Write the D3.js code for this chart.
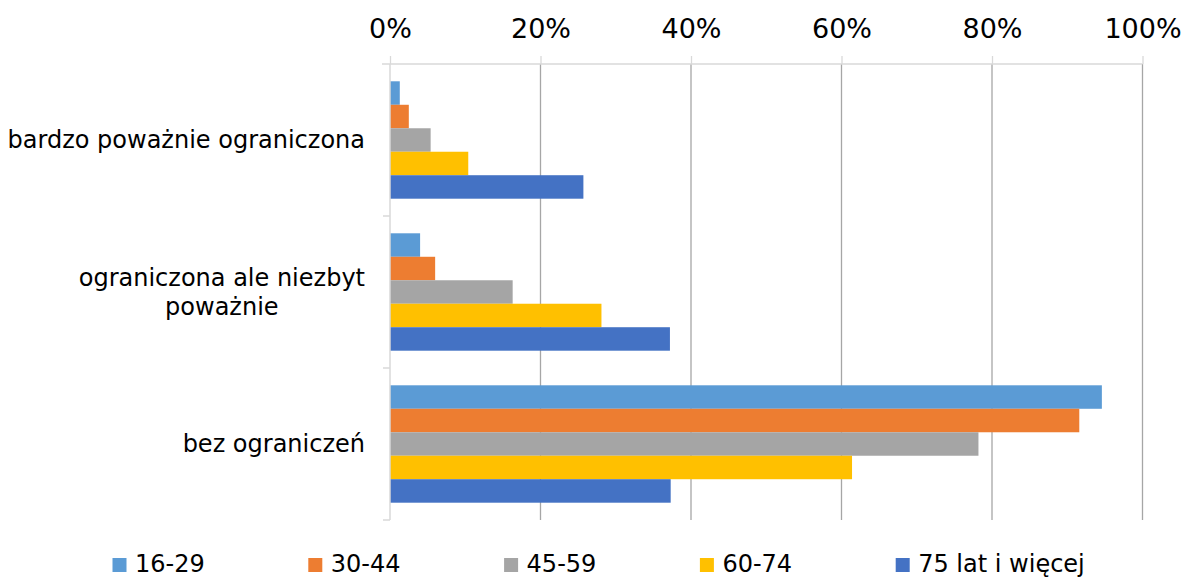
<!DOCTYPE html>
<html lang="pl">
<head>
<meta charset="UTF-8">
<title>Ograniczenia wg wieku</title>
<script src="https://d3js.org/d3.v7.min.js"></script>
<style>
    body { margin: 0; background: #fff; }
    svg { display: block; font-family: "DejaVu Sans", Verdana, sans-serif; }
</style>
</head>
<body>
<div id="chart"></div>
<script>
const w = 1185;
const h = 578;

const categories = [
    ['bardzo poważnie ograniczona'],
    ['ograniczona ale niezbyt', 'poważnie'],
    ['bez ograniczeń']
];
const catKeys = categories.map(c => c.join(' '));
const seriesNames = ['16-29', '30-44', '45-59', '60-74', '75 lat i więcej'];
const seriesColors = ['#5B9BD5', '#ED7D31', '#A5A5A5', '#FFC000', '#4472C4'];
// values in %, one array per series, in category order
const v1629 = [1.3, 4.0, 94.6];
const v3044 = [2.5, 6.0, 91.6];
const v4559 = [5.4, 16.3, 78.2];
const v6074 = [10.4, 28.1, 61.4];
const v75 = [25.7, 37.2, 37.3];
const seriesValues = [v1629, v3044, v4559, v6074, v75];
const xTicks = [0, 20, 40, 60, 80, 100];

const plotL = 390, plotR = 1142.5, plotT = 64, plotB = 520;

const svg = d3.select('#chart').append('svg')
    .attr('width', w)
    .attr('height', h);

const x = d3.scaleLinear().domain([0, 100]).range([plotL, plotR]);
const y0 = d3.scaleBand().domain(catKeys).range([plotT, plotB]);
const gap = 17.3;
const y1 = d3.scaleBand().domain(seriesNames).range([gap, y0.bandwidth() - gap]);

// gridlines
svg.append('g')
    .selectAll('line')
    .data(xTicks.filter(d => d > 0))
    .join('line')
    .attr('x1', d => x(d)).attr('x2', d => x(d))
    .attr('y1', plotT).attr('y2', plotB)
    .attr('stroke', '#a6a6a6')
    .attr('stroke-width', 1.3);

// bars
const rows = [];
catKeys.forEach((c, ci) => {
    seriesNames.forEach((s, si) => {
        rows.push({ cat: c, s: s, si: si, v: seriesValues[si][ci] });
    });
});
svg.append('g')
    .selectAll('rect')
    .data(rows)
    .join('rect')
    .attr('x', x(0))
    .attr('y', d => y0(d.cat) + y1(d.s))
    .attr('width', d => x(d.v) - x(0))
    .attr('height', y1.bandwidth())
    .attr('fill', d => seriesColors[d.si]);

// top axis
const xAxis = d3.axisTop(x)
    .tickValues(xTicks)
    .tickFormat(d => d + '%')
    .tickSizeInner(8)
    .tickSizeOuter(0)
    .tickPadding(18);
const gx = svg.append('g')
    .attr('transform', `translate(0,${plotT})`)
    .call(xAxis);
gx.select('.domain').remove();
gx.selectAll('.tick line').attr('stroke', '#d9d9d9').attr('stroke-width', 1.3);
gx.selectAll('.tick text')
    .attr('font-size', 27)
    .attr('font-family', '"DejaVu Sans", Verdana, sans-serif')
    .attr('fill', '#000');
svg.append('line')
    .attr('x1', plotL - 8).attr('x2', plotR)
    .attr('y1', plotT).attr('y2', plotT)
    .attr('stroke', '#d9d9d9').attr('stroke-width', 1.5);

// left axis
svg.append('line')
    .attr('x1', plotL).attr('x2', plotL)
    .attr('y1', plotT).attr('y2', plotB)
    .attr('stroke', '#d9d9d9').attr('stroke-width', 1.5);
const bounds = catKeys.map(c => y0(c)).concat([plotB]);
svg.append('g')
    .selectAll('line')
    .data(bounds.slice(1))
    .join('line')
    .attr('x1', plotL - 7).attr('x2', plotL)
    .attr('y1', d => d).attr('y2', d => d)
    .attr('stroke', '#d9d9d9').attr('stroke-width', 1.5);

// category labels
const labelRight = 365;
const lineH = 29;
categories.forEach((lines, ci) => {
    const cy = y0(catKeys[ci]) + y0.bandwidth() / 2;
    const g = svg.append('g');
    const texts = lines.map((t, li) => g.append('text')
        .attr('font-size', 24)
        .attr('fill', '#000')
        .attr('dy', '0.35em')
        .attr('y', cy + (li - (lines.length - 1) / 2) * lineH)
        .text(t));
    const widths = texts.map(t => t.node().getComputedTextLength());
    const maxW = d3.max(widths);
    texts.forEach(t => {
        t.attr('text-anchor', 'middle').attr('x', labelRight - maxW / 2);
    });
});

// legend
const legX = 112.5, legStep = 195.8;
const leg = svg.append('g')
    .selectAll('g')
    .data(seriesNames)
    .join('g')
    .attr('transform', (d, i) => `translate(${legX + i * legStep},558)`);
leg.append('rect')
    .attr('width', 14).attr('height', 14)
    .attr('fill', (d, i) => seriesColors[i]);
leg.append('text')
    .attr('x', 22.5).attr('y', 14)
    .attr('font-size', 24)
    .attr('fill', '#000')
    .text(d => d);
</script>
</body>
</html>
